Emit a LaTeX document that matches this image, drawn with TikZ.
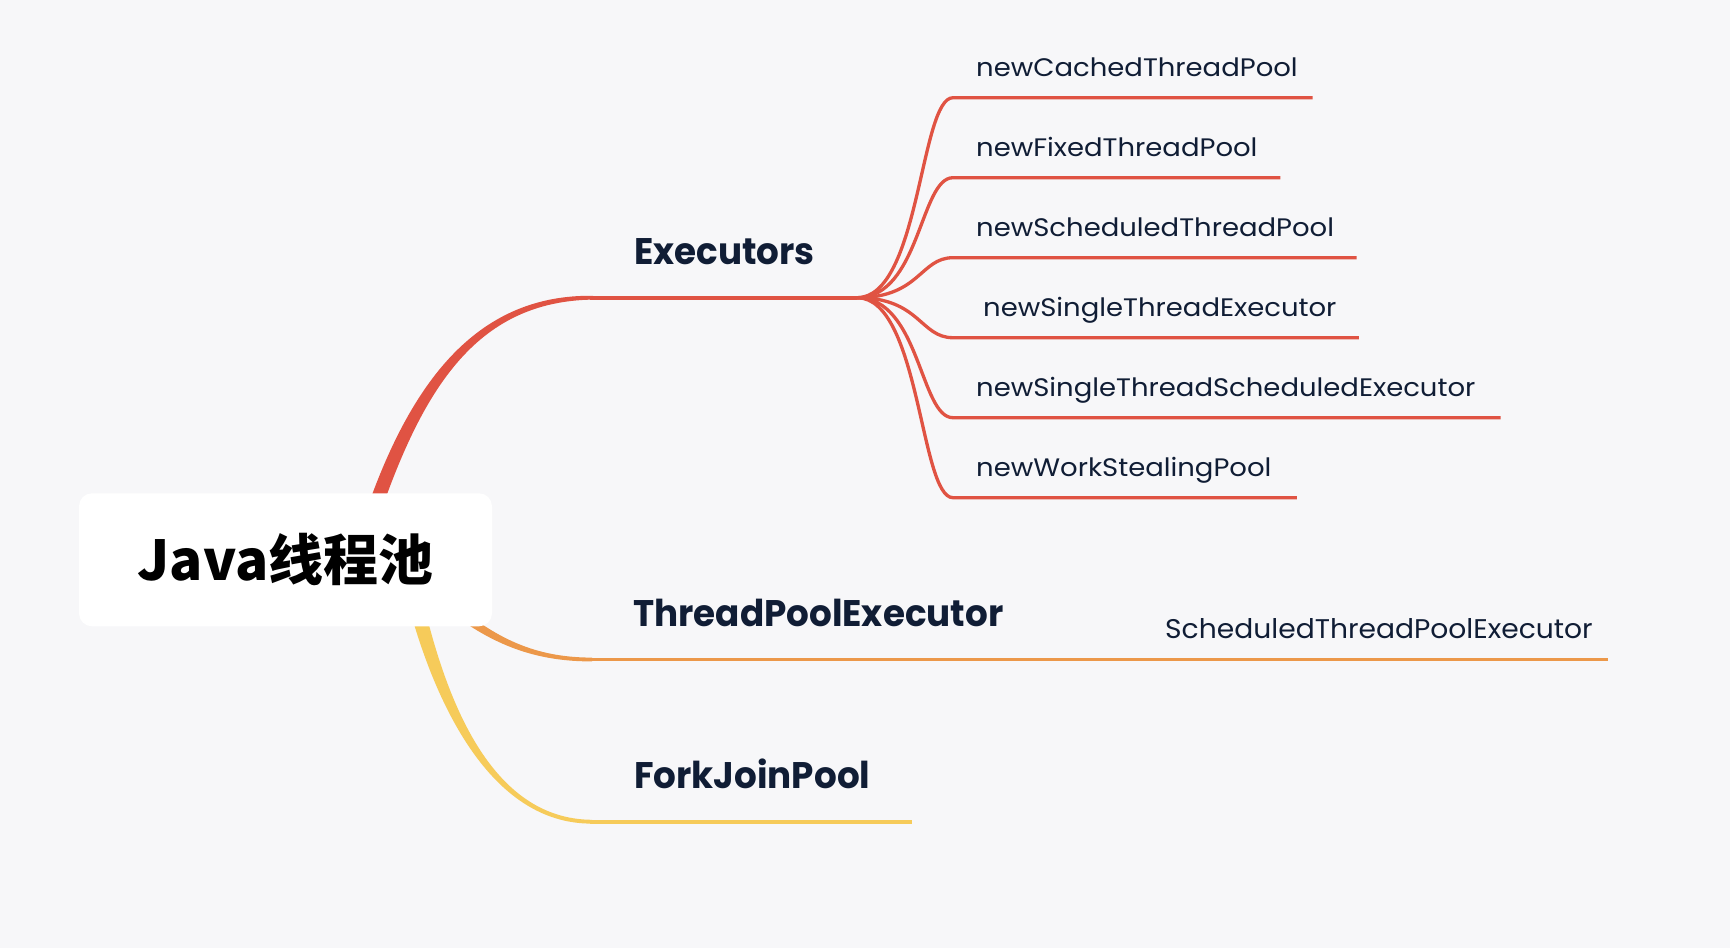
\documentclass[tikz,border=0pt]{standalone}
\usepackage{fontspec}
\setmainfont{Poppins}
\newfontfamily\cjk{Noto Sans CJK SC}
\definecolor{bg}{HTML}{F7F7F9}
\definecolor{cred}{HTML}{E05343}
\definecolor{corange}{HTML}{EC984A}
\definecolor{cyellow}{HTML}{F6CB5A}
\definecolor{ink}{HTML}{101D35}
\newcommand{\wideC}[1]{\scalebox{1.086}[1]{#1}}
\newcommand{\narrowB}[1]{\scalebox{0.966}[1]{#1}}
\begin{document}
\begin{tikzpicture}[x=1pt,y=-1pt,
  lvlone/.style={anchor=base west, inner sep=0pt, text=ink, font=\fontsize{37}{40}\selectfont\bfseries},
  lvltwo/.style={anchor=base west, inner sep=0pt, text=ink, font=\fontsize{25.3}{28}\selectfont},
  redline/.style={draw=cred, line width=3.3pt},
  mainline/.style={line width=3.8pt},
  rootbox/.style={fill=white, rounded corners=13pt, minimum width=413pt, minimum height=133pt, inner sep=0pt,
    font=\cjk\bfseries\fontsize{55}{60}\selectfont, text=black}]
\useasboundingbox (0,0) rectangle (1730,948);
\fill[bg] (0,0) rectangle (1730,948);

% named points
\coordinate (exeA) at (593,297.7);
\coordinate (exeB) at (857,297.7);
\coordinate (tpeA) at (592,659.5);
\coordinate (tpeB) at (1150,659.5);
\coordinate (stpeB) at (1608,659.5);
\coordinate (fjpA) at (592,821.7);
\coordinate (fjpB) at (912,821.7);

% tapered main branches
\fill[cred] (368.4,504.7) .. controls (414,377) and (480,294.2) .. (593,295.8)
  -- (593,299.6) .. controls (480,301.2) and (426,383) .. (381.6,509.3) -- cycle;
\fill[corange] (457.8,606.4) .. controls (502.1,642.2) and (540,657.5) .. (592,657.6)
  -- (592,661.4) .. controls (540,661.5) and (497.9,647.8) .. (452.2,613.6) -- cycle;
\fill[cyellow] (422.3,598.2) .. controls (445.7,698.1) and (490,819.2) .. (592,819.8)
  -- (592,823.6) .. controls (490,824.2) and (434.3,701.9) .. (407.7,601.8) -- cycle;

% main horizontal lines
\draw[mainline, cred] ([xshift=-3pt]exeA) -- (exeB);
\draw[mainline, corange] ([xshift=-2pt]tpeA) -- (tpeB) -- (stpeB);
\draw[mainline, cyellow] ([xshift=-2pt]fjpA) -- (fjpB);

% level-one labels
\node[lvlone] (exe) at (634,264) {\narrowB{Executors}};
\node[lvlone] (tpe) at (633,626.7) {\narrowB{ThreadPoolExecutor}};
\node[lvlone] (fjp) at (634,788.3) {\narrowB{ForkJoinPool}};

% Executors children
\foreach \i/\y/\e in {1/97.7/1312.5, 2/177.7/1280.4, 3/257.7/1356.5, 4/337.7/1358.8, 5/417.7/1500.5, 6/497.7/1296.8}{
  \coordinate (cs\i) at (953,\y);
  \coordinate (ce\i) at (\e,\y);
  \draw[redline] (exeB) .. controls (920,297.7) and (920,\y) .. (cs\i) -- (ce\i);
}
\node[lvltwo] (n1) at (976,76.0) {\wideC{newCachedThreadPool}};
\node[lvltwo] (n2) at (976,156.0) {\wideC{newFixedThreadPool}};
\node[lvltwo] (n3) at (976,236.0) {\wideC{newScheduledThreadPool}};
\node[lvltwo] (n4) at (983,316.0) {\wideC{newSingleThreadExecutor}};
\node[lvltwo] (n5) at (976,396.0) {\wideC{newSingleThreadScheduledExecutor}};
\node[lvltwo] (n6) at (976,476.0) {\wideC{newWorkStealingPool}};

% ThreadPoolExecutor child
\node[lvltwo, font=\fontsize{27}{30}\selectfont] (stpe) at (1165,638.3) {\scalebox{1.043}[1]{ScheduledThreadPoolExecutor}};

% root
\node[rootbox] (root) at (285.5,559.8) {Java线程池};
\end{tikzpicture}
\end{document}
